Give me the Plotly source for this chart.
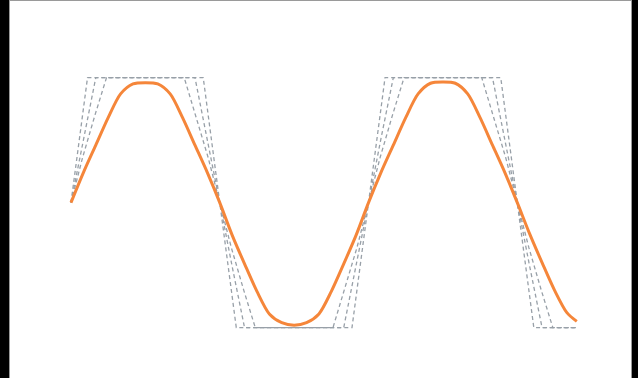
import plotly.graph_objects as go

# phase in degrees along the x axis
phase_deg = [0, 15, 30, 45, 60, 75, 90, 105, 120, 135, 150, 165, 180,
             195, 210, 225, 240, 255, 270, 285, 300, 315, 330, 345, 360,
             375, 390, 405, 420, 435, 450, 465, 480, 495, 510, 525, 540,
             555, 570, 585, 600, 612]
signal_y = [0.00, 0.24, 0.46, 0.68, 0.87, 0.95, 0.96, 0.95, 0.87, 0.68, 0.46, 0.24, 0.00,
            -0.26, -0.49, -0.71, -0.89, -0.96, -0.98, -0.96, -0.89, -0.71, -0.49, -0.26, 0.00,
            0.24, 0.46, 0.68, 0.87, 0.955, 0.965, 0.955, 0.87, 0.68, 0.46, 0.24, 0.00,
            -0.25, -0.48, -0.70, -0.88, -0.95]

# clipped curves (gray dashed), break points
clip_a_x = [0, 10, 20, 160, 170, 180, 190, 200, 340, 350, 360, 370, 380, 520, 530, 540, 550, 560, 612]
clip_a_y = [0, 0.5, 1, 1, 0.5, 0, -0.5, -1, -1, -0.5, 0, 0.5, 1, 1, 0.5, 0, -0.5, -1, -1]

clip_b_x = [0, 15, 30, 150, 165, 180, 195, 210, 330, 345, 360, 375, 390, 510, 525, 540, 555, 570, 612]
clip_b_y = [0, 0.51, 1, 1, 0.51, 0, -0.51, -1, -1, -0.51, 0, 0.51, 1, 1, 0.51, 0, -0.51, -1, -1]

clip_c_x = [0, 14, 29, 43, 137, 151, 166, 180, 194, 209, 223, 317, 331, 346, 360,
            374, 389, 403, 497, 511, 526, 540, 554, 569, 583, 612]
clip_c_y = [0, 0.36, 0.70, 1, 1, 0.70, 0.36, 0, -0.36, -0.70, -1, -1, -0.70, -0.36, 0,
            0.36, 0.70, 1, 1, 0.70, 0.36, 0, -0.36, -0.70, -1, -1]

fig = go.Figure()

gray = '#98a0a8'
for xs, ys in [(clip_a_x, clip_a_y), (clip_b_x, clip_b_y), (clip_c_x, clip_c_y)]:
    fig.add_trace(go.Scatter(x=xs, y=ys, mode='lines',
                             line=dict(color=gray, width=1.3, dash='4px,3px'),
                             hoverinfo='skip', showlegend=False))

fig.add_trace(go.Scatter(x=phase_deg, y=signal_y, mode='lines',
                         line=dict(color='#f5863a', width=3, shape='spline', smoothing=0.8),
                         showlegend=False))

axis_style = dict(showgrid=False, zeroline=False, showticklabels=False, ticks='',
                  showline=True, mirror=True, linecolor='#9a9a9a', linewidth=1)

fig.update_layout(
    width=638, height=378,
    margin=dict(l=10, r=7, t=1, b=0),
    paper_bgcolor='black', plot_bgcolor='white',
    xaxis=dict(range=[-73.8, 677.6], **axis_style),
    yaxis=dict(range=[-1.403, 1.613], **axis_style),
)

# drop the default page margin so the figure sits at the window corner
fig.write_html("out.html", config={'displayModeBar': False},
               post_script="document.body.style.margin='0';document.body.style.background='black';")
